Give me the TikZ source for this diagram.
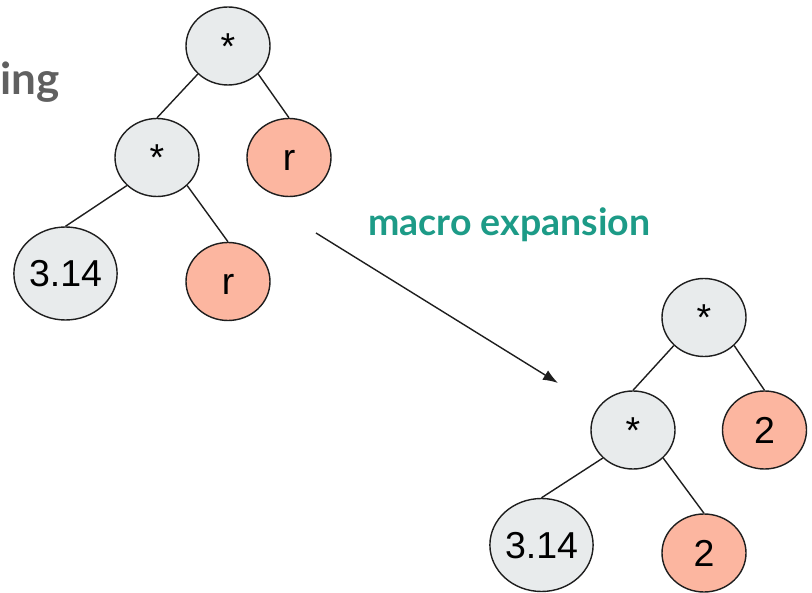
\documentclass[tikz,border=0pt]{standalone}
\usepackage{fontspec}
\setmainfont{Liberation Sans}
\newfontfamily\latofont{Lato}
\usetikzlibrary{shapes.geometric,arrows.meta}
\definecolor{nodegray}{RGB}{232,235,236}
\definecolor{nodesalmon}{RGB}{252,182,160}
\definecolor{tealtext}{RGB}{29,155,135}
\definecolor{graytext}{RGB}{96,96,96}
\definecolor{linecol}{RGB}{30,30,30}
\begin{document}
\begin{tikzpicture}[x=1pt,y=-1pt,
  tnode/.style={ellipse, draw=linecol, line width=1.4pt, inner sep=0pt,
    minimum width=84pt, minimum height=78pt,
    font=\fontsize{37.5}{37.5}\selectfont, text height=27pt, text depth=0pt},
  opnode/.style={tnode, fill=nodegray},
  varnode/.style={tnode, fill=nodesalmon},
  bignode/.style={tnode, fill=nodegray, minimum width=101pt, minimum height=93pt},
  edgeline/.style={draw=linecol, line width=1.4pt},
  lbl/.style={inner sep=0pt}]
\useasboundingbox (0,0) rectangle (812,593);
% title fragment
\node[lbl, font={\latofont\bfseries\fontsize{44}{44}\selectfont}, text=graytext, anchor=base east] (ing) at (60,95) {ing};
% left tree
\node[opnode] (L1) at (228,46) {*};
\node[opnode] (L2) at (157,157.5) {*};
\node[varnode] (L3) at (289,157.5) {r};
\node[bignode] (L4) at (65.5,273.5) {3.14};
\node[varnode] (L5) at (228,281.5) {r};
\draw[edgeline] (L1.south west) -- (L2.north);
\draw[edgeline] (L1.south east) -- (L3.north);
\draw[edgeline] (L2.south west) -- (L4.north);
\draw[edgeline] (L2.south east) -- (L5.north);
% right tree
\node[opnode] (R1) at (704,317.5) {*};
\node[opnode] (R2) at (633,430) {*};
\node[varnode] (R3) at (764.5,430) {2};
\node[bignode] (R4) at (541.5,545) {3.14};
\node[varnode] (R5) at (704,553) {2};
\draw[edgeline] (R1.south west) -- (R2.north);
\draw[edgeline] (R1.south east) -- (R3.north);
\draw[edgeline] (R2.south west) -- (R4.north);
\draw[edgeline] (R2.south east) -- (R5.north);
% arrow
\coordinate (A1) at (316,233);
\coordinate (A2) at (558,383);
\draw[edgeline, -{Latex[length=15pt,width=11pt]}] (A1) -- (A2);
\node[lbl, font={\latofont\bfseries\fontsize{37.5}{37.5}\selectfont}, text=tealtext, anchor=base west] (mx) at (368,236) {macro expansion};
\end{tikzpicture}
\end{document}
